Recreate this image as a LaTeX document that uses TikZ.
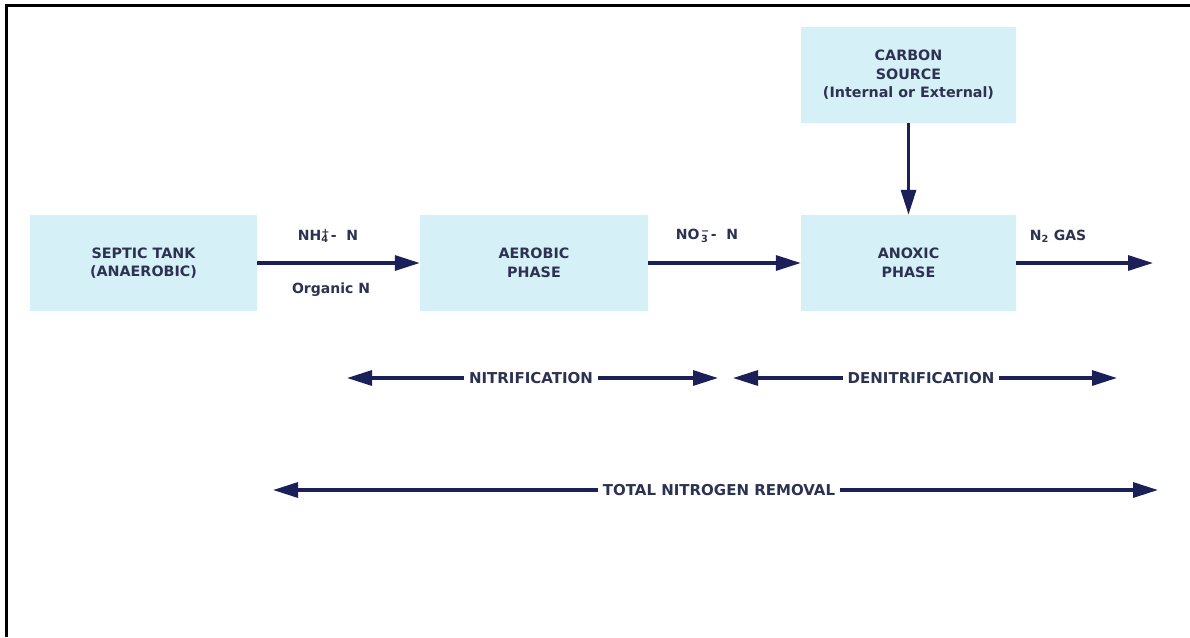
\documentclass[tikz,border=0pt]{standalone}
\usepackage{fontspec}
\setmainfont{DejaVu Sans}
\usetikzlibrary{arrows.meta}
\definecolor{boxfill}{RGB}{214,240,248}
\definecolor{navy}{RGB}{28,32,88}
\definecolor{txt}{RGB}{45,50,80}
\tikzset{
  box/.style={fill=boxfill, draw=none, minimum height=96pt, align=center,
    font=\bfseries\fontsize{14.3}{18.5}\selectfont, text=txt, inner sep=0pt},
  flow/.style={draw=navy, line width=3.2pt, -{Triangle[length=25pt,width=15pt]}},
  twoway/.style={draw=navy, line width=3.2pt,
    {Triangle[length=25pt,width=15pt]}-{Triangle[length=25pt,width=15pt]}},
  lbl/.style={font=\bfseries\fontsize{14}{18}\selectfont, text=txt, inner sep=0pt},
  spanlbl/.style={font=\bfseries\fontsize{15}{18}\selectfont, text=txt, fill=white,
    inner xsep=5pt, inner ysep=2pt},
}
\begin{document}
\begin{tikzpicture}[x=1pt,y=-1pt]
\useasboundingbox (0,0) rectangle (1190,637);
\fill[white] (0,0) rectangle (1190,637);
% frame
\draw[line width=3.5pt] (6.5,637) -- (6.5,5.5) -- (1190,5.5);
% boxes
\node[box, minimum width=227pt] (septic) at (143.5,263) {SEPTIC TANK\\(ANAEROBIC)};
\node[box, minimum width=228pt] (aerobic) at (534,263) {AEROBIC\\PHASE};
\node[box, minimum width=215pt] (anoxic) at (908.5,263) {ANOXIC\\PHASE};
\node[box, minimum width=215pt] (carbon) at (908.5,75) {CARBON\\SOURCE\\(Internal or External)};
% flow arrows
\coordinate (out) at (1153,263);
\draw[flow] (septic.east) -- (aerobic.west);
\draw[flow] (aerobic.east) -- (anoxic.west);
\draw[flow] (anoxic.east) -- (out);
\draw[flow] (carbon.south) -- (anoxic.north);
% flow labels
\node[lbl] (nh4) at (328,236) {NH\rlap{\textsuperscript{+}}\textsubscript{4}\,-\ \ N};
\node[lbl] (orgn) at (331,290) {Organic N};
\node[lbl] (no3) at (707,236) {NO\rlap{\textsuperscript{\,−}}\textsubscript{\,3}\,-\ \ N};
\node[lbl] (n2) at (1058,236) {N\textsubscript{2} GAS};
% span arrows
\coordinate (nitL) at (347,378);
\coordinate (nitR) at (718,378);
\draw[twoway] (nitL) -- (nitR);
\node[spanlbl] (nit) at (531,378) {NITRIFICATION};
\coordinate (denL) at (733,378);
\coordinate (denR) at (1117,378);
\draw[twoway] (denL) -- (denR);
\node[spanlbl] (den) at (921,378) {DENITRIFICATION};
\coordinate (totL) at (273,490);
\coordinate (totR) at (1158,490);
\draw[twoway] (totL) -- (totR);
\node[spanlbl] (tot) at (719,490) {TOTAL NITROGEN REMOVAL};
\end{tikzpicture}
\end{document}
